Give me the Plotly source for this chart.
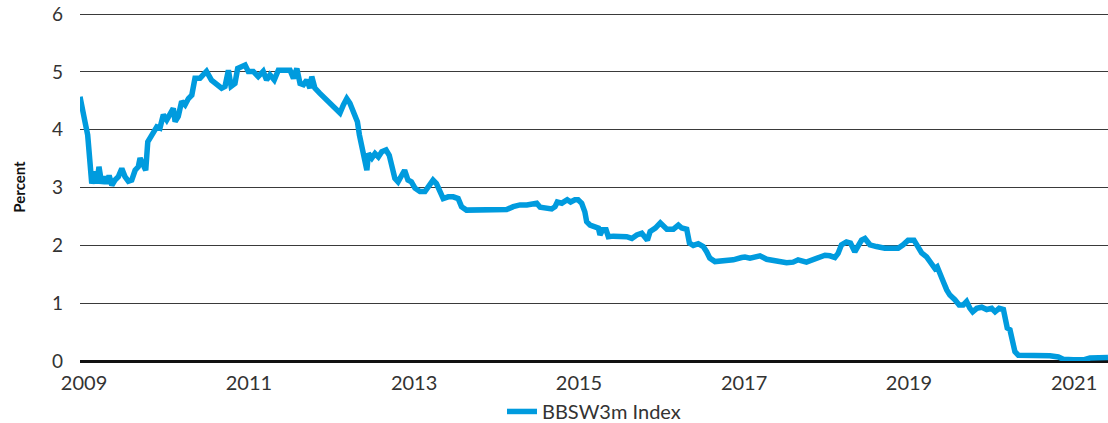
import plotly.graph_objects as go

dates = [
    "2008-12-14", "2008-12-22", "2009-01-05", "2009-01-17", "2009-01-27", "2009-02-04", "2009-02-18",
    "2009-02-26", "2009-03-08", "2009-03-20", "2009-04-01", "2009-04-11", "2009-04-22", "2009-05-04",
    "2009-05-18", "2009-06-02", "2009-06-17", "2009-07-01", "2009-07-16", "2009-07-31", "2009-08-15",
    "2009-08-29", "2009-09-06", "2009-09-20", "2009-10-01", "2009-10-10", "2009-10-28", "2009-11-19",
    "2009-12-03", "2009-12-18", "2010-01-02", "2010-01-16", "2010-01-31", "2010-02-08", "2010-02-22",
    "2010-03-09", "2010-03-24", "2010-04-08", "2010-04-23", "2010-05-07", "2010-05-29", "2010-06-12",
    "2010-06-27", "2010-07-19", "2010-08-11", "2010-09-02", "2010-09-17", "2010-10-02", "2010-10-14",
    "2010-10-31", "2010-11-12", "2010-11-30", "2010-12-15", "2010-12-29", "2011-01-20", "2011-02-11",
    "2011-03-05", "2011-03-20", "2011-04-04", "2011-04-23", "2011-05-11", "2011-06-02", "2011-07-02",
    "2011-07-17", "2011-08-01", "2011-08-15", "2011-08-30", "2011-09-14", "2011-09-28", "2011-10-06",
    "2011-10-20", "2011-11-11", "2011-12-11", "2012-01-02", "2012-01-24", "2012-02-08", "2012-02-23",
    "2012-03-09", "2012-03-23", "2012-04-07", "2012-04-25", "2012-05-04", "2012-05-14", "2012-05-25",
    "2012-06-06", "2012-06-13", "2012-06-28", "2012-07-12", "2012-07-27", "2012-08-11", "2012-08-30",
    "2012-09-13", "2012-09-23", "2012-10-08", "2012-10-22", "2012-11-06", "2012-11-20", "2012-12-05",
    "2012-12-20", "2013-01-05", "2013-01-27", "2013-02-18", "2013-03-12", "2013-03-26", "2013-04-10",
    "2013-04-25", "2013-05-10", "2013-06-01", "2013-06-23", "2013-07-15", "2013-07-30", "2013-08-21",
    "2013-09-20", "2013-10-19", "2013-11-18", "2013-12-17", "2014-01-16", "2014-02-15", "2014-03-16",
    "2014-04-15", "2014-05-15", "2014-06-13", "2014-06-28", "2014-07-13", "2014-08-11", "2014-09-02",
    "2014-09-17", "2014-09-27", "2014-10-17", "2014-11-10", "2014-11-25", "2014-12-14", "2014-12-28",
    "2015-01-13", "2015-01-27", "2015-02-04", "2015-02-19", "2015-03-13", "2015-03-28", "2015-04-04",
    "2015-04-16", "2015-05-01", "2015-05-11", "2015-06-02", "2015-07-02", "2015-07-31", "2015-08-23",
    "2015-09-14", "2015-10-06", "2015-10-21", "2015-10-31", "2015-11-12", "2015-12-05", "2015-12-27",
    "2016-01-10", "2016-01-25", "2016-02-23", "2016-03-16", "2016-03-31", "2016-04-22", "2016-05-04",
    "2016-05-21", "2016-06-12", "2016-07-04", "2016-07-19", "2016-08-02", "2016-08-25", "2016-10-01",
    "2016-11-14", "2016-12-21", "2017-01-05", "2017-01-27", "2017-03-12", "2017-04-11", "2017-05-25",
    "2017-07-08", "2017-08-06", "2017-08-28", "2017-10-04", "2017-11-03", "2017-12-03", "2017-12-25",
    "2018-01-16", "2018-02-07", "2018-02-21", "2018-03-08", "2018-03-30", "2018-04-17", "2018-05-06",
    "2018-05-21", "2018-06-05", "2018-06-20", "2018-07-12", "2018-08-10", "2018-09-16", "2018-10-16",
    "2018-11-14", "2018-12-06", "2018-12-28", "2019-01-23", "2019-02-11", "2019-02-26", "2019-03-20",
    "2019-04-11", "2019-04-26", "2019-05-06", "2019-05-18", "2019-06-02", "2019-06-17", "2019-07-01",
    "2019-07-23", "2019-08-11", "2019-08-29", "2019-09-13", "2019-09-28", "2019-10-10", "2019-10-28",
    "2019-11-19", "2019-12-11", "2020-01-02", "2020-01-17", "2020-02-04", "2020-02-23", "2020-03-01",
    "2020-03-11", "2020-03-23", "2020-04-04", "2020-04-14", "2020-04-29", "2020-06-05", "2020-08-03",
    "2020-09-16", "2020-10-23", "2020-11-14", "2020-12-28", "2021-02-11", "2021-03-12", "2021-04-25",
    "2021-05-31",
]

bbsw3m = [
    4.57, 4.37, 4.14, 3.91, 3.56, 3.07, 3.28,
    3.07, 3.36, 3.07, 3.19, 3.07, 3.21, 3.04,
    3.13, 3.19, 3.33, 3.19, 3.11, 3.13, 3.30,
    3.36, 3.51, 3.39, 3.30, 3.79, 3.91, 4.05,
    4.03, 4.26, 4.17, 4.26, 4.37, 4.14, 4.23,
    4.49, 4.43, 4.54, 4.60, 4.89, 4.89, 4.95,
    5.01, 4.86, 4.78, 4.72, 4.75, 5.03, 4.75,
    4.80, 5.06, 5.09, 5.12, 5.01, 5.01, 4.92,
    5.01, 4.86, 4.95, 4.86, 5.03, 5.03, 5.03,
    4.89, 5.06, 4.80, 4.78, 4.86, 4.72, 4.92,
    4.72, 4.63, 4.52, 4.43, 4.34, 4.29, 4.43,
    4.54, 4.46, 4.29, 4.14, 3.91, 3.74, 3.51,
    3.30, 3.59, 3.51, 3.59, 3.53, 3.62, 3.65,
    3.56, 3.36, 3.16, 3.10, 3.22, 3.30, 3.13,
    3.10, 2.99, 2.93, 2.93, 3.07, 3.13, 3.07,
    2.96, 2.81, 2.84, 2.84, 2.81, 2.67, 2.61,
    2.61, 2.60, 2.60, 2.61, 2.60, 2.62, 2.67,
    2.70, 2.70, 2.71, 2.73, 2.66, 2.64, 2.63,
    2.67, 2.75, 2.73, 2.79, 2.75, 2.79, 2.79,
    2.73, 2.58, 2.41, 2.35, 2.32, 2.30, 2.18,
    2.27, 2.27, 2.15, 2.16, 2.16, 2.15, 2.12,
    2.18, 2.21, 2.15, 2.09, 2.24, 2.30, 2.39,
    2.32, 2.28, 2.28, 2.35, 2.30, 2.28, 2.04,
    2.00, 2.03, 1.98, 1.89, 1.78, 1.72, 1.73,
    1.75, 1.79, 1.80, 1.78, 1.82, 1.76, 1.73,
    1.70, 1.71, 1.75, 1.71, 1.75, 1.80, 1.83,
    1.82, 1.79, 1.86, 2.01, 2.06, 2.04, 1.89,
    2.01, 2.09, 2.12, 2.01, 1.98, 1.95, 1.95,
    1.95, 2.01, 2.09, 2.09, 1.98, 1.87, 1.80,
    1.69, 1.60, 1.63, 1.49, 1.37, 1.23, 1.14,
    1.06, 0.97, 0.97, 1.03, 0.91, 0.85, 0.91,
    0.93, 0.89, 0.91, 0.85, 0.91, 0.89, 0.71,
    0.57, 0.54, 0.30, 0.16, 0.10, 0.10, 0.10,
    0.09, 0.07, 0.03, 0.02, 0.02, 0.05, 0.06,
    0.06,
]

y_ticks = [0, 1, 2, 3, 4, 5, 6]
x_ticks = ["2009-01-01", "2011-01-01", "2013-01-01", "2015-01-01",
           "2017-01-01", "2019-01-01", "2021-01-01"]
x_tick_labels = ["2009", "2011", "2013", "2015", "2017", "2019", "2021"]
series_name = "BBSW3m Index"

FONT = "Lato, 'Open Sans', sans-serif"
TEXT = "#333333"

fig = go.Figure()
fig.add_trace(go.Scatter(
    x=dates, y=bbsw3m, mode="lines", name=series_name,
    line=dict(color="#009bde", width=5.5),
))

fig.update_layout(
    width=1108, height=423,
    margin=dict(l=80, r=0, t=13, b=62, autoexpand=False),
    paper_bgcolor="white", plot_bgcolor="white",
    font=dict(family=FONT, size=20, color=TEXT),
    showlegend=True,
    legend=dict(orientation="h", x=0.5, xanchor="center", y=-0.145, yanchor="middle",
                font=dict(family=FONT, size=20, color=TEXT)),
    xaxis=dict(
        type="date", automargin=False,
        range=[dates[0], dates[-1]],
        tickvals=x_ticks, ticktext=x_tick_labels,
        showgrid=False, zeroline=False, showline=False,
        ticks="", ticklabelstandoff=8,
        tickfont=dict(family=FONT, size=20, color=TEXT),
    ),
    yaxis=dict(
        range=[0, 6.02], tickvals=y_ticks, automargin=False,
        showgrid=True, gridcolor="#3a3a3a", gridwidth=1,
        zeroline=True, zerolinecolor="#111111", zerolinewidth=2.5,
        showline=False, ticks="", ticklabelstandoff=16,
        tickfont=dict(family=FONT, size=19, color=TEXT),
        title=dict(text="<b>Percent</b>", font=dict(family=FONT, size=15, color="#111111"),
                   standoff=22),
    ),
)

fig.write_html(
    "out.html",
    config={"displayModeBar": False},
    post_script="document.body.style.margin='0px';document.body.style.overflow='hidden';",
)
